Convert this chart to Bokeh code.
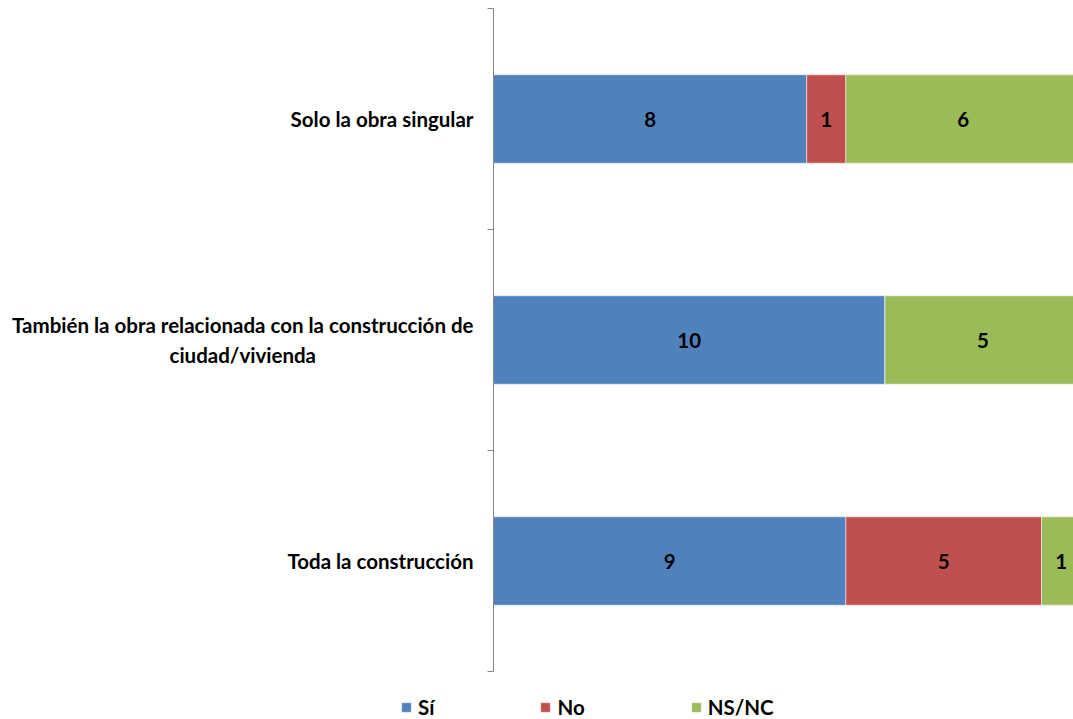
from bokeh.plotting import figure
from bokeh.models import ColumnDataSource, Range1d, FixedTicker, Legend, LegendItem, LabelSet
from bokeh.core.properties import value
from bokeh.embed import file_html
from bokeh.resources import INLINE

categories = ["Solo la obra singular",
              "También la obra relacionada con la construcción de\nciudad/vivienda",
              "Toda la construcción"]
series_names = ["Sí", "No", "NS/NC"]
si = [8, 10, 9]
no = [1, 0, 5]
nsnc = [6, 5, 1]
colors = ["#4F81BD", "#C0504D", "#9BBB59"]

# layout (pixels)
W, H = 1073, 719
AXIS_PX, TOP_PX, BOTTOM_PX = 493, 8, 671
UNIT_PX = 39.15
LABEL_GAP_PX = 20

FONT = "Lato"
FS = "20.5px"
n = len(categories)
ys = [n - i - 0.5 for i in range(n)]
band_px = (BOTTOM_PX - TOP_PX) / n

src = ColumnDataSource(dict(y=ys, si=si, no=no, nsnc=nsnc))

p = figure(width=W, height=H, output_backend="svg", toolbar_location=None,
           x_range=Range1d(-AXIS_PX / UNIT_PX, (W - AXIS_PX) / UNIT_PX),
           y_range=Range1d(-(H - BOTTOM_PX) / band_px, n + TOP_PX / band_px),
           min_border=0)
p.outline_line_color = None
p.xgrid.visible = False
p.ygrid.visible = False
p.xaxis.visible = False

rs = p.hbar_stack(["si", "no", "nsnc"], y="y", height=0.4, source=src,
                  color=colors, line_color="white", line_width=0.5)

# value labels
lx, ly, lt = [], [], []
for i in range(n):
    cum = 0
    for vals in (si, no, nsnc):
        v = vals[i]
        if v > 0:
            lx.append(cum + v / 2)
            ly.append(ys[i])
            lt.append(str(v))
        cum += v
lsrc = ColumnDataSource(dict(x=lx, y=ly, t=lt))
p.add_layout(LabelSet(x="x", y="y", text="t", source=lsrc, text_align="center",
                      text_baseline="middle", text_font=value(FONT), text_font_style="bold",
                      text_font_size=FS, text_color="black"))

# category axis
ax = p.yaxis[0]
ax.fixed_location = 0
ax.bounds = (0, n)
ax.ticker = FixedTicker(ticks=[], minor_ticks=[float(k) for k in range(n + 1)])
ax.major_tick_out = 0
ax.major_tick_in = 0
ax.minor_tick_out = 6
ax.minor_tick_in = 0
ax.axis_line_color = "#868686"
ax.minor_tick_line_color = "#868686"

csrc = ColumnDataSource(dict(x=[0] * n, y=ys, t=categories))
p.text(x="x", y="y", text="t", source=csrc, x_offset=-LABEL_GAP_PX,
       anchor="center_right", text_align="center", text_baseline="middle",
       text_font=value(FONT), text_font_style="bold",
       text_font_size=FS, text_color="black", text_line_height=1.25)

legend = Legend(items=[LegendItem(label=series_names[k], renderers=[rs[k]]) for k in range(3)],
                orientation="horizontal", location=(400, 0),
                glyph_width=12, glyph_height=12, label_standoff=6, spacing=105,
                label_width=0, label_height=12, padding=0, margin=0, border_line_color=None,
                background_fill_alpha=0, label_text_font=FONT, label_text_font_style="bold",
                label_text_font_size=FS, label_text_color="black")
p.add_layout(legend, "center")

open("out.html", "w").write(file_html(p, INLINE))
